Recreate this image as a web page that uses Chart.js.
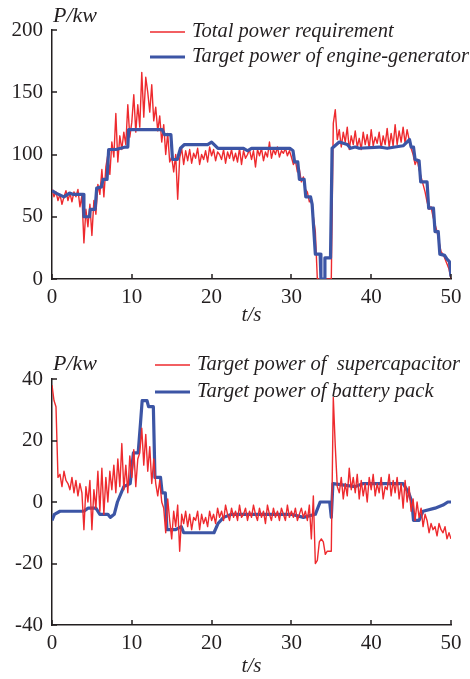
<!DOCTYPE html>
<html>
<head>
<meta charset="utf-8">
<script src="https://cdn.jsdelivr.net/npm/chart.js@4.4.1/dist/chart.umd.min.js"></script>
<style>
  html, body { margin: 0; padding: 0; background: #fff; }
  #wrap { position: relative; width: 470px; height: 679px; }
  canvas { position: absolute; left: 0; }
  #powerChart { top: 0; }
  #storageChart { top: 330px; }
</style>
</head>
<body>
<div id="wrap">
  <canvas id="powerChart" width="470" height="330"></canvas>
  <canvas id="storageChart" width="470" height="349"></canvas>
</div>
<script>
// noisy traces are sampled every 0.25 s from t = 0 to 50
const dt = 0.25;

// top: total power requirement (kW)
const totalPower = [
  72, 66, 70, 63,   68, 60, 66, 71,   63, 69, 62, 70,   66, 72, 58, 67,
  29, 56, 42, 60,   35, 63, 52, 76,   68, 88, 66, 90,   100, 84, 110, 98,
  133, 94, 115, 104, 118, 108, 140, 114, 126, 148, 118, 140, 122, 166, 130, 162,
  150, 134, 156, 127, 138, 119, 131, 110, 124, 100, 117, 94, 98, 86, 100, 64,
  97, 105, 92, 103,  95, 104, 93, 101,  97, 105, 92, 100,  96, 103, 94, 106,
  99, 104, 95, 102,  100, 96, 104, 93,  102, 97, 104, 95,  101, 94, 105, 92,
  103, 97, 100, 104, 96, 103, 90, 104,  99, 105, 95, 102,  98, 110, 97, 104,
  100, 106, 98, 103, 101, 105, 99, 103, 98, 92, 95, 86,   88, 78, 82, 72,
  70, 62, 64, 50,   38, 0, 0, 0,     0, 0, 0, 0,       0, 125, 136, 112,
  120, 106, 118, 110, 122, 104, 115, 108, 119, 106, 113, 104, 118, 108, 116, 105,
  120, 107, 114, 109, 118, 105, 115, 108, 121, 106, 117, 107, 124, 108, 119, 110,
  122, 109, 120, 112, 105, 100, 92, 96,  88, 82, 76, 70,   62, 56, 58, 50,
  44, 38, 30, 22,   20, 16, 12, 8,
  0
];

// top: target power of engine-generator (kW), breakpoints
const engineTime = [0, 0.5, 1.5, 2.2, 2.6, 3.9, 4.0, 4.7, 4.8, 5.4, 5.6, 6.2, 6.4, 6.9, 7.1,
  8.0, 9.2, 9.5, 9.6, 13.8, 14.1, 14.9, 15.1, 15.7, 16.1, 16.6, 19.5, 20.0, 20.8, 24.0,
  24.5, 25.0, 29.8, 30.2, 30.4, 30.8, 31.0, 31.6, 31.8, 32.4, 32.6, 33.0, 33.6, 33.7, 34.1,
  34.2, 34.9, 35.1, 36.0, 37.0, 37.4, 38.0, 38.5, 41.0, 42.0, 44.0, 44.8, 45.0, 45.3, 45.5,
  46.0, 46.2, 47.0, 47.2, 47.8, 48.0, 48.4, 48.6, 49.2, 49.5, 49.8, 50];
const enginePower = [71, 69, 66, 69, 68, 68, 50, 50, 56, 56, 73, 74, 80, 80, 104,
  104, 106, 106, 120, 120, 116, 116, 96, 96, 105, 108, 108, 110, 105, 105,
  103, 105, 105, 103, 94, 94, 80, 80, 66, 66, 60, 20, 20, 0, 0,
  17, 17, 105, 110, 108, 105, 106, 105, 106, 105, 107, 112, 106, 106, 96,
  95, 78, 78, 57, 57, 38, 38, 20, 19, 16, 14, 2];

// bottom: target power of supercapacitor (kW)
const supercapPower = [
  38, 33, 31, 8,    9, 5, 10, 7,     6, 4, 8, 3,      7, 2, 6, 3,
  -9, 5, 0, 7,      -9, 4, -2, 10,   -3, 11, -4, 8,   0, 10, 4, 12,
  3, 14, 5, 19,     4, 12, 3, 15,    8, 17, 5, 14,    16, 24, 12, 22,
  10, 18, 6, 14,    6, 2, 7, 0,      -2, -10, 1, -6,  -12, -3, -8, -1,
  -16, -4, -7, -3,  -8, -4, -9, -5,  -6, -3, -9, -4,  -7, -5, -8, -3,
  -6, -4, -7, -2,   -5, -3, -6, -1,  -4, -6, -2, -5,  -3, -6, -1, -5,
  -4, -2, -6, -3,   -5, -1, -4, -6,  -2, -5, -3, -7,  -1, -4, -6, -2,
  -5, -3, -6, -2,   -4, -6, -1, -5,  -3, -5, -2, -6,  -4, -2, -5, -3,
  -6, -1, -12, 2,   -20, -19, -13, -12, -13, -17, -16, -16, -16, 34, 18, 5,
  3, 8, 1, 6,       2, 11, 4, 8,     3, 9, 1, 7,      2, 6, 0, 8,
  4, 9, 2, 6,       3, 8, 1, 5,      4, 9, 2, 7,      3, 8, 1, 6,
  -2, 7, 0, 5,      -3, 1, -6, 0,    -5, -2, -8, -4,  -6, -10, -7, -9,
  -8, -11, -7, -9,  -10, -8, -12, -10,
  -12
];

// bottom: target power of battery pack (kW), breakpoints
const batteryTime = [0, 0.3, 1.0, 4.0, 4.5, 5.5, 6.0, 7.0, 7.3, 7.8, 8.2, 9.0, 9.8, 10.2, 10.8,
  11.1, 11.3, 11.9, 12.1, 12.7, 12.9, 13.6, 13.8, 14.2, 14.4, 15.5, 16.2, 16.5, 20.3, 20.8,
  21.5, 22.5, 30.0, 31.5, 33.0, 33.6, 34.8, 35.0, 35.2, 38.0, 39.0, 44.0, 44.7, 45.1, 45.3,
  46.0, 46.5, 48.0, 49.0, 49.6, 50];
const batteryPower = [-6, -4, -3, -3, -2, -2, -4, -4, -5, -4, 0, 5, 6, 16, 16,
  26, 33, 33, 31, 31, 8, 8, 3, 3, -9, -9, -8, -10, -10, -7,
  -5, -4, -4, -5, -4, 0, 0, -5, 6, 5, 6, 6, 3, 0, -6,
  -6, -3, -2, -1, 0, 0];

const timeTicks = [0, 10, 20, 30, 40, 50];

const RED = '#ee2a2e';
const BLUE = '#3c55a5';
const INK = '#231f20';
const SERIF = '"Liberation Serif", "Times New Roman", serif';

function sampled(values) {
  return values.map((v, i) => ({ x: i * dt, y: v }));
}
function paired(times, values) {
  return times.map((t, i) => ({ x: t, y: values[i] }));
}

// inward tick marks, the P/kw label and the legend of the paper figure
const paperPlugin = {
  id: 'paper',
  afterDraw(chart, args, opts) {
    const { ctx, chartArea } = chart;
    const xs = chart.scales.x, ys = chart.scales.y;
    ctx.save();
    ctx.strokeStyle = INK;
    ctx.lineWidth = 1.5;
    ctx.beginPath();
    xs.ticks.forEach((t, i) => {
      const px = Math.round(xs.getPixelForTick(i));
      ctx.moveTo(px, chartArea.bottom);
      ctx.lineTo(px, chartArea.bottom - 5);
    });
    ys.ticks.forEach((t, i) => {
      const py = Math.round(ys.getPixelForTick(i));
      ctx.moveTo(chartArea.left, py);
      ctx.lineTo(chartArea.left + 5, py);
    });
    ctx.stroke();

    ctx.fillStyle = INK;
    ctx.textBaseline = 'middle';
    ctx.textAlign = 'left';
    ctx.font = 'italic 22px ' + SERIF;
    ctx.fillText('P/kw', opts.unitX, opts.unitY);

    ctx.font = 'italic 20.5px ' + SERIF;
    chart.data.datasets.forEach((ds, i) => {
      const y = opts.legendY + i * opts.legendGap;
      ctx.strokeStyle = ds.borderColor;
      ctx.lineWidth = ds.borderWidth;
      ctx.beginPath();
      ctx.moveTo(opts.legendX, y);
      ctx.lineTo(opts.legendX + 35, y);
      ctx.stroke();
      ctx.fillStyle = INK;
      ctx.fillText(ds.label, opts.legendX + 42, y);
    });
    ctx.restore();
  }
};

function axisX(height, titlePad) {
  return {
    type: 'linear', min: 0, max: 50,
    afterFit: s => { s.height = height; },
    afterBuildTicks: s => { s.ticks = timeTicks.map(v => ({ value: v })); },
    grid: { display: true, drawOnChartArea: false, drawTicks: false },
    border: { display: true, color: INK, width: 1.5 },
    ticks: { color: INK, padding: 6, font: { family: SERIF, size: 21 } },
    title: { display: true, text: 't/s', color: INK, padding: { top: 0, bottom: titlePad },
             font: { family: SERIF, size: 21, style: 'italic' } }
  };
}
function axisY(min, max, step) {
  return {
    min: min, max: max,
    afterFit: s => { s.width = 52; },
    grid: { display: true, drawOnChartArea: false, drawTicks: false },
    border: { display: true, color: INK, width: 1.5 },
    ticks: { stepSize: step, color: INK, padding: 9, font: { family: SERIF, size: 21 } }
  };
}

function lineSet(label, data, color, width, order) {
  return {
    label: label, data: data, borderColor: color, borderWidth: width, order: order,
    pointRadius: 0, tension: 0, fill: false, borderJoinStyle: 'round'
  };
}

new Chart(document.getElementById('powerChart'), {
  type: 'line',
  data: {
    datasets: [
      lineSet('Total power requirement', sampled(totalPower), RED, 1.4, 1),
      lineSet('Target power of engine-generator', paired(engineTime, enginePower), BLUE, 3.2, 0)
    ]
  },
  options: {
    responsive: false, animation: false, devicePixelRatio: 1,
    layout: { padding: { top: 30, right: 19, left: 0, bottom: 0 } },
    scales: { x: axisX(51, 2), y: axisY(0, 200, 50) },
    plugins: {
      legend: { display: false }, tooltip: { enabled: false },
      paper: { unitX: 53, unitY: 16, legendX: 150, legendY: 32, legendGap: 25 }
    }
  },
  plugins: [paperPlugin]
});

new Chart(document.getElementById('storageChart'), {
  type: 'line',
  data: {
    datasets: [
      lineSet('Target power of  supercapacitor', sampled(supercapPower), RED, 1.4, 0),
      lineSet('Target power of battery pack', paired(batteryTime, batteryPower), BLUE, 3.2, 1)
    ]
  },
  options: {
    responsive: false, animation: false, devicePixelRatio: 1,
    layout: { padding: { top: 49, right: 19, left: 0, bottom: 0 } },
    scales: { x: axisX(54, 0), y: axisY(-40, 40, 20) },
    plugins: {
      legend: { display: false }, tooltip: { enabled: false },
      paper: { unitX: 53, unitY: 34, legendX: 155, legendY: 35, legendGap: 27 }
    }
  },
  plugins: [paperPlugin]
});
</script>
</body>
</html>
